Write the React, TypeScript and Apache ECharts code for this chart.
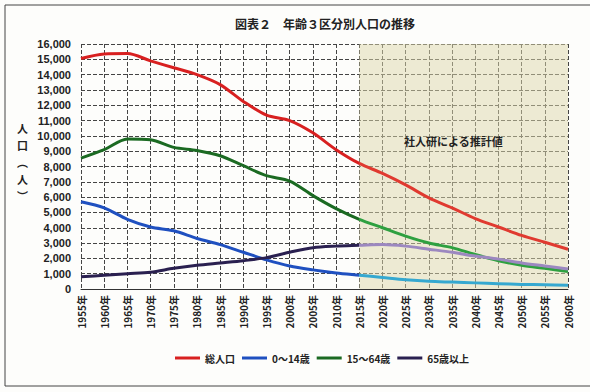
import React, { useEffect, useRef } from "react";
import * as echarts from "echarts";

const years = [1955,1960,1965,1970,1975,1980,1985,1990,1995,2000,2005,2010,2015,2020,2025,2030,2035,2040,2045,2050,2055,2060];
const categories = years.map((y) => `${y}年`);

const total = [15050,15350,15380,14900,14450,14000,13350,12250,11350,11000,10200,9100,8200,7550,6800,5950,5300,4600,4050,3500,3050,2600];
const young = [5700,5300,4550,4050,3800,3300,2900,2400,1900,1500,1250,1050,900,750,600,500,450,400,350,300,280,250];
const working = [8550,9100,9800,9750,9250,9050,8700,8050,7400,7050,6100,5250,4550,4000,3450,3000,2700,2250,1850,1550,1350,1150];
const elderly = [800,900,1000,1100,1350,1550,1700,1850,2050,2400,2700,2800,2850,2900,2800,2600,2400,2150,1950,1700,1500,1300];

const seriesNames = ["総人口", "0～14歳", "15～64歳", "65歳以上"];
const legendColors = ["#d82020", "#1f50c0", "#1b6a22", "#2a2050"];
const projColors = ["#e03a30", "#35a8d0", "#2ea040", "#9c88c0"];
const yAxisNameChars = ["人", "口", "︵", "人", "︶"];

export default function App() {
  const ref = useRef<HTMLDivElement>(null);
  useEffect(() => {
    if (!ref.current) return;
    const chart = echarts.init(ref.current, undefined, { renderer: "svg" });
    const frac = 12 / (categories.length - 1);
    const grad = (a: string, b: string) =>
      new echarts.graphic.LinearGradient(0, 0, 1, 0, [
        { offset: 0, color: a },
        { offset: frac, color: a },
        { offset: frac + 0.0001, color: b },
        { offset: 1, color: b },
      ]);
    const datas = [total, young, working, elderly];
    const series: any[] = datas.map((d, i) => ({
      name: seriesNames[i],
      type: "line",
      data: d,
      smooth: 0.3,
      symbol: "none",
      lineStyle: { width: 3, color: grad(legendColors[i], projColors[i]) },
      itemStyle: { color: legendColors[i] },
      z: 3,
    }));
    series[0].markArea = {
      silent: true,
      itemStyle: { color: "rgba(222,216,172,0.5)" },
      data: [[{ xAxis: "2015年", yAxis: 16000 }, { xAxis: "2060年", yAxis: 0 }]],
    };
    const yName = yAxisNameChars.map((c, i) => ({
      type: "text",
      left: 17,
      top: 122 + i * 17,
      z: 100,
      style: { text: c, fontSize: 11, fontWeight: "bold", fill: "#222", fontFamily: "Noto Sans CJK JP" },
    }));
    chart.setOption({
      animation: false,
      backgroundColor: "#fdfdfb",
      title: {
        text: "図表２　年齢３区分別人口の推移",
        left: 320,
        top: 12,
        textAlign: "center",
        textStyle: { fontSize: 12, fontWeight: "bold", color: "#222", fontFamily: "Noto Sans CJK JP" },
      },
      legend: {
        bottom: 24,
        left: 170,
        itemWidth: 25,
        itemHeight: 3,
        itemGap: 7,
        icon: "rect",
        textStyle: { fontSize: 10, fontWeight: "bold", color: "#222", fontFamily: "Noto Sans CJK JP" },
        data: seriesNames.map((n, i) => ({ name: n, itemStyle: { color: legendColors[i] } })),
      },
      grid: { left: 81, right: 22, top: 44, bottom: 103 },
      xAxis: {
        type: "category",
        data: categories,
        boundaryGap: false,
        axisLine: { lineStyle: { color: "#333", width: 1 } },
        axisTick: { show: false },
        axisLabel: {
          rotate: 90,
          interval: 0,
          fontSize: 10,
          fontWeight: "bold",
          color: "#222",
          margin: 6,
          fontFamily: "Noto Sans CJK JP",
        },
        splitLine: { show: true, lineStyle: { color: "#444", type: "dashed", width: 1 } },
      },
      yAxis: {
        type: "value",
        min: 0,
        max: 16000,
        interval: 1000,
        axisLine: { show: false },
        axisTick: { show: false },
        axisLabel: {
          fontSize: 11,
          color: "#222",
          fontWeight: "bold",
          margin: 10,
          fontFamily: "Liberation Sans",
          formatter: (v: number) => v.toLocaleString("en-US"),
        },
        splitLine: { lineStyle: { color: "#444", type: "dashed", width: 1 } },
      },
      graphic: [
        ...yName,
        {
          type: "text",
          left: 404,
          top: 135,
          z: 100,
          style: {
            text: "社人研による推計値",
            fontSize: 11,
            fontWeight: "bold",
            fill: "#222",
            fontFamily: "Noto Sans CJK JP",
          },
        },
        { type: "line", shape: { x1: 5, y1: 5, x2: 590, y2: 5 }, style: { stroke: "#444", lineWidth: 1 } },
        { type: "line", shape: { x1: 5, y1: 5, x2: 5, y2: 386 }, style: { stroke: "#444", lineWidth: 1 } },
        { type: "line", shape: { x1: 5, y1: 386, x2: 590, y2: 386 }, style: { stroke: "#444", lineWidth: 1 } },
      ],
      series,
    });
    return () => chart.dispose();
  }, []);
  return (
    <div
      ref={ref}
      style={{ position: "fixed", left: 0, top: 0, width: 590, height: 392 }}
    />
  );
}
